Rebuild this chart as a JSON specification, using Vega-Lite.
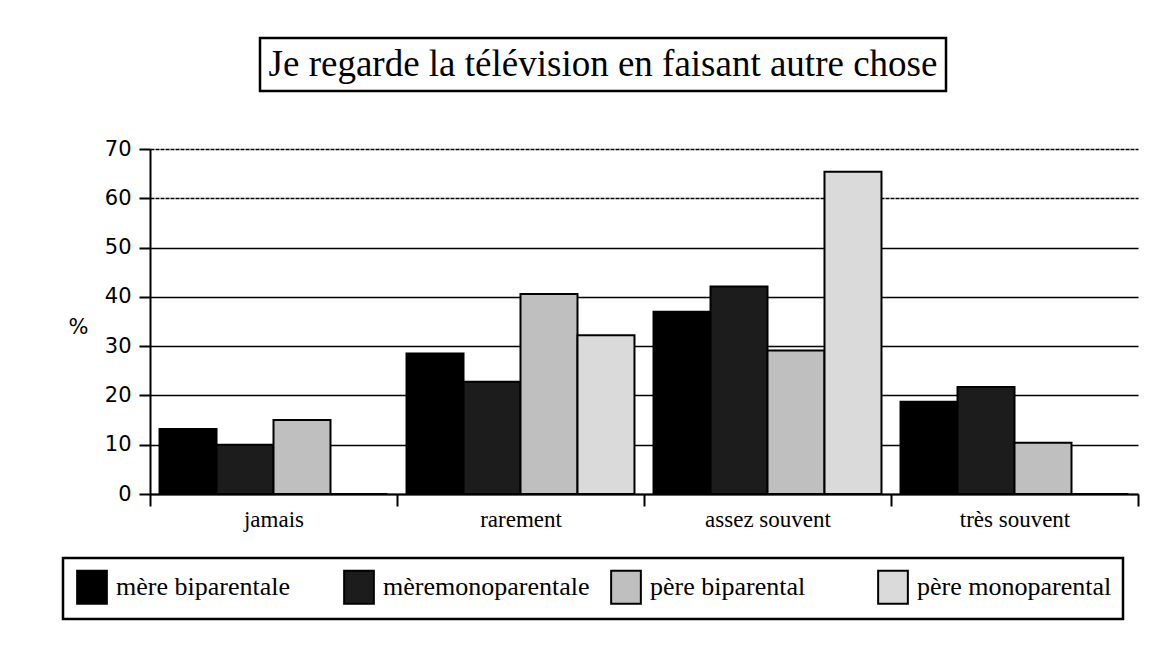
{
  "$schema": "https://vega.github.io/schema/vega-lite/v6.json",
  "background": "white",
  "padding": {"left": 61, "top": 36, "right": 5, "bottom": 5},
  "spacing": 45,
  "config": {"view": {"stroke": null}},
  "vconcat": [
    {
      "spacing": 20,
      "hconcat": [
        {
          "width": 88,
          "height": 53,
          "data": {"values": [{"t": ""}]},
          "mark": {"type": "text"},
          "encoding": {"text": {"field": "t"}}
        },
        {
          "width": 686,
          "height": 53,
          "view": {"stroke": "black", "strokeWidth": 2.5},
          "data": {"values": [{"titre": "Je regarde la télévision en faisant autre chose"}]},
          "mark": {"type": "text", "font": "Liberation Serif", "fontSize": 37, "color": "black"},
          "encoding": {"text": {"field": "titre"}}
        }
      ]
    },
    {
      "width": 988,
      "height": 345,
      "data": {
        "values": [
          {"freq": "jamais", "groupe": "mère biparentale", "pct": 13.2},
          {"freq": "jamais", "groupe": "mèremonoparentale", "pct": 10.0},
          {"freq": "jamais", "groupe": "père biparental", "pct": 15.0},
          {"freq": "jamais", "groupe": "père monoparental", "pct": 0},
          {"freq": "rarement", "groupe": "mère biparentale", "pct": 28.5},
          {"freq": "rarement", "groupe": "mèremonoparentale", "pct": 22.8},
          {"freq": "rarement", "groupe": "père biparental", "pct": 40.6},
          {"freq": "rarement", "groupe": "père monoparental", "pct": 32.2},
          {"freq": "assez souvent", "groupe": "mère biparentale", "pct": 37.0},
          {"freq": "assez souvent", "groupe": "mèremonoparentale", "pct": 42.1},
          {"freq": "assez souvent", "groupe": "père biparental", "pct": 29.1},
          {"freq": "assez souvent", "groupe": "père monoparental", "pct": 65.4},
          {"freq": "très souvent", "groupe": "mère biparentale", "pct": 18.7},
          {"freq": "très souvent", "groupe": "mèremonoparentale", "pct": 21.7},
          {"freq": "très souvent", "groupe": "père biparental", "pct": 10.4},
          {"freq": "très souvent", "groupe": "père monoparental", "pct": 0}
        ]
      },
      "mark": {"type": "bar", "stroke": "black", "strokeWidth": 2},
      "encoding": {
        "x": {
          "field": "freq",
          "type": "nominal",
          "sort": ["jamais", "rarement", "assez souvent", "très souvent"],
          "scale": {"paddingInner": 0, "paddingOuter": 0},
          "axis": {
            "title": null,
            "labelAngle": 0,
            "labelFont": "Liberation Serif",
            "labelFontSize": 23,
            "labelColor": "black",
            "labelPadding": 2,
            "tickBand": "extent",
            "tickSize": 12,
            "tickColor": "black",
            "tickWidth": 2,
            "domainColor": "black",
            "domainWidth": 2,
            "grid": false
          }
        },
        "xOffset": {
          "field": "groupe",
          "type": "nominal",
          "sort": ["mère biparentale", "mèremonoparentale", "père biparental", "père monoparental"],
          "scale": {"paddingInner": 0, "paddingOuter": 0.167}
        },
        "y": {
          "field": "pct",
          "type": "quantitative",
          "scale": {"domain": [0, 70], "nice": false},
          "axis": {
            "title": "%",
            "titleAngle": 0,
            "titleX": -72,
            "titleY": 178,
            "titleAlign": "center",
            "titleBaseline": "middle",
            "titleFont": "DejaVu Sans",
            "titleFontSize": 21,
            "titleFontWeight": "normal",
            "titleColor": "black",
            "values": [0, 10, 20, 30, 40, 50, 60, 70],
            "labelFont": "DejaVu Sans",
            "labelFontSize": 21,
            "labelColor": "black",
            "labelPadding": 8,
            "tickSize": 11,
            "tickColor": "black",
            "tickWidth": 2,
            "domainColor": "black",
            "domainWidth": 2,
            "grid": true,
            "gridColor": "black",
            "gridWidth": 1.6,
            "gridDash": {"condition": {"test": "datum.value >= 60", "value": [4, 1]}, "value": []}
          }
        },
        "fill": {
          "field": "groupe",
          "type": "nominal",
          "scale": {
            "domain": ["mère biparentale", "mèremonoparentale", "père biparental", "père monoparental"],
            "range": ["#000000", "#1c1c1c", "#bfbfbf", "#dadada"]
          },
          "legend": {
            "title": null,
            "orient": "none",
            "legendX": -87,
            "legendY": 520,
            "direction": "horizontal",
            "columns": 4,
            "gridAlign": "all",
            "columnPadding": 17,
            "symbolType": "M-0.9,-1H0.9V1H-0.9Z",
            "symbolSize": 1090,
            "symbolStrokeColor": "black",
            "symbolStrokeWidth": 2,
            "symbolOpacity": 1,
            "labelFont": "Liberation Serif",
            "labelFontSize": 26,
            "labelColor": "black",
            "labelOffset": 6,
            "labelLimit": 400,
            "padding": 11,
            "strokeColor": "black",
            "fillColor": "white",
            "encode": {"legend": {"update": {"strokeWidth": {"value": 2.5}}}}
          }
        }
      }
    }
  ]
}
